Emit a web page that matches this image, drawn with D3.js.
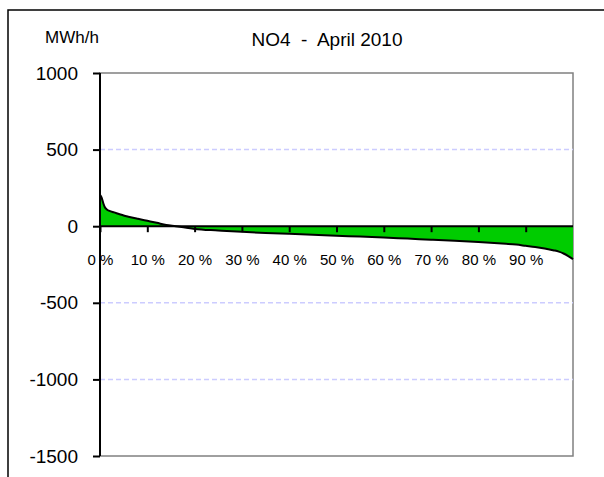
<!DOCTYPE html>
<html><head><meta charset="utf-8">
<script src="https://cdn.jsdelivr.net/npm/d3@7/dist/d3.min.js"></script>
<style>html,body{margin:0;padding:0;background:#fff;}svg{display:block;}</style>
</head><body>
<svg id="chart" width="604" height="477"></svg>
<script>
// Duration curve: percent of time vs MWh/h
const percents = [0, 0.3, 0.7, 1, 1.5, 2, 3, 4, 5, 6, 8, 10, 12, 14, 16, 18, 20, 25, 30, 35, 40, 45, 50, 55, 60, 65, 70, 75, 80, 85, 88, 90, 92, 94, 96, 97, 98, 99, 100];
const values   = [205, 190, 150, 125, 108, 100, 90, 80, 70, 62, 48, 35, 22, 8, 0, -9, -18, -28, -37, -44, -50, -56, -62, -68, -74, -81, -88, -95, -103, -113, -120, -128, -136, -146, -158, -166, -178, -195, -215];
const yTicks = [1000, 500, 0, -500, -1000, -1500];
const gridValues = [500, -500, -1000];
const xTicks = [0, 10, 20, 30, 40, 50, 60, 70, 80, 90];
const title = "NO4  -  April 2010";
const unit = "MWh/h";

const svg = d3.select("#chart");
const font = "'Liberation Sans', Arial, sans-serif";
const L = 100, R = 573, T = 73, B = 456;
const x = d3.scaleLinear().domain([0, 100]).range([L, R]);
const y = d3.scaleLinear().domain([-1500, 1000]).range([B, T]);

// outer frame
svg.append("rect").attr("x", 8).attr("y", 10).attr("width", 640).attr("height", 520)
  .attr("fill", "none").attr("stroke", "#000").attr("stroke-width", 1.5);

// plot border (gray)
svg.append("rect").attr("x", L).attr("y", T).attr("width", R - L).attr("height", B - T)
  .attr("fill", "none").attr("stroke", "#808080").attr("stroke-width", 1.5);

// grid lines
svg.selectAll("line.grid").data(gridValues).join("line").attr("class", "grid")
  .attr("x1", L).attr("x2", R).attr("y1", d => y(d)).attr("y2", d => y(d))
  .attr("stroke", "#ccccff").attr("stroke-width", 1.5).attr("stroke-dasharray", "5,3");

const data = percents.map((p, i) => ({p, v: values[i]}));

// area
svg.append("path").datum(data)
  .attr("d", d3.area().x(d => x(d.p)).y0(y(0)).y1(d => y(d.v)).curve(d3.curveMonotoneX))
  .attr("fill", "#00cc00");
svg.append("path").datum(data)
  .attr("d", d3.line().x(d => x(d.p)).y(d => y(d.v)).curve(d3.curveMonotoneX))
  .attr("fill", "none").attr("stroke", "#000").attr("stroke-width", 2);

// y axis
const yAxis = d3.axisLeft(y).tickValues(yTicks).tickSize(7).tickPadding(15).tickFormat(d => String(d));
const gy = svg.append("g").attr("transform", `translate(${L},0)`).call(yAxis);
gy.select(".domain").attr("stroke", "#000").attr("stroke-width", 2).attr("d", `M0,${T}V${B}`);
gy.selectAll(".tick line").attr("stroke", "#000").attr("stroke-width", 2);
gy.selectAll(".tick text").attr("font-family", font).attr("font-size", 19).attr("fill", "#000");

// x axis at zero
const xAxis = d3.axisBottom(x).tickValues(xTicks).tickSize(6).tickPadding(22).tickFormat(d => d + " %");
const gx = svg.append("g").attr("transform", `translate(0,${y(0)})`).call(xAxis);
gx.select(".domain").attr("stroke", "#000").attr("stroke-width", 2).attr("d", `M${L},0H${R}`);
gx.selectAll(".tick line").attr("stroke", "#000").attr("stroke-width", 2);
gx.selectAll(".tick text").attr("font-family", font).attr("font-size", 15).attr("fill", "#000");

// titles
svg.append("text").attr("x", 327).attr("y", 46).attr("text-anchor", "middle")
  .attr("font-family", font).attr("font-size", 19).attr("fill", "#000")
  .style("white-space", "pre").text(title);
svg.append("text").attr("x", 45).attr("y", 43)
  .attr("font-family", font).attr("font-size", 17).attr("fill", "#000").text(unit);
</script>
</body></html>
